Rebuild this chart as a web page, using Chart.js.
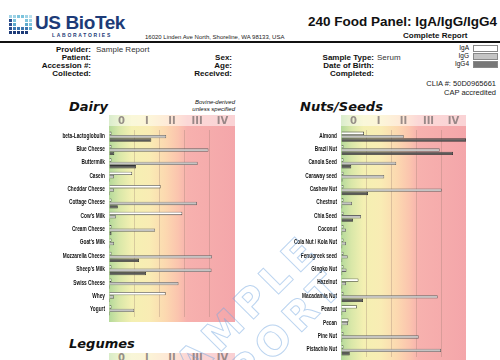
<!DOCTYPE html>
<html>
<head>
<meta charset="utf-8">
<script src="https://cdn.jsdelivr.net/npm/chart.js@4.4.1/dist/chart.umd.min.js"></script>
<style>
  html, body { margin: 0; padding: 0; }
  body { width: 500px; height: 360px; overflow: hidden; position: relative; background: #fff;
         font-family: "Liberation Sans", Arial, sans-serif; color: #111; }
  .t { position: absolute; white-space: nowrap; line-height: 10px; }
  .lbl { font-weight: bold; font-size: 8px; text-align: right; }
  .val { font-size: 8px; color: #333; }
  canvas { position: absolute; }
  .swatch { position: absolute; width: 23px; height: 5px; border: 1px solid #888; }
  .band { position: absolute; left: 109px; top: 353px; width: 126px; height: 11px; display: flex;
          background: linear-gradient(to right, #d8ecc8 0%, #ecf2cc 8%, #f8f6d8 18%, #fbf3d6 32%, #fde9d6 45%, #fde0d4 55%, #fad6d5 62%, #f9d0d3 100%); }
  .band span { flex: 1; text-align: center; font: bold 10px "DejaVu Sans", sans-serif; color: rgba(120,110,110,0.75); line-height: 10px; }
  .wm { position: absolute; font: bold 40px "DejaVu Sans", sans-serif; color: transparent; line-height: 44px;
        -webkit-text-stroke: 1px rgba(120,170,225,0.5); letter-spacing: 6px;
        transform: translate(-50%, -50%) rotate(-45deg); }
</style>
</head>
<body>
<!-- header -->
<div id="logo" style="position:absolute;left:9px;top:15px;width:24px;height:20px;"></div>
<div class="t" style="left:35px;top:12px;font:bold 19px/22px 'Liberation Sans',Arial,sans-serif;color:#1d3b78;letter-spacing:-0.4px;">US BioTek</div>
<div class="t" style="left:52px;top:32px;font:bold 5px/6px 'Liberation Sans',Arial,sans-serif;color:#1d3b78;letter-spacing:1.7px;">LABORATORIES</div>
<div class="t" style="left:145px;top:34px;font-size:6px;line-height:7px;color:#222;">16020 Linden Ave North, Shoreline, WA 98133, USA</div>
<div class="t" style="right:3px;top:14px;font:bold 13.5px/16px 'Liberation Sans',Arial,sans-serif;color:#111;">240 Food Panel: IgA/IgG/IgG4</div>
<div class="t" style="left:403px;top:31px;font-weight:bold;font-size:8px;">Complete Report</div>
<div style="position:absolute;left:0;top:41px;width:500px;height:2px;background:#111;"></div>

<div class="t lbl" style="right:409px;top:45px;">Provider:</div>
<div class="t val" style="left:96px;top:45px;">Sample Report</div>
<div class="t lbl" style="right:409px;top:53px;">Patient:</div>
<div class="t lbl" style="right:409px;top:61px;">Accession #:</div>
<div class="t lbl" style="right:409px;top:69px;">Collected:</div>
<div class="t lbl" style="right:268px;top:53px;">Sex:</div>
<div class="t lbl" style="right:268px;top:61px;">Age:</div>
<div class="t lbl" style="right:268px;top:69px;">Received:</div>
<div class="t lbl" style="right:126px;top:53px;">Sample Type:</div>
<div class="t val" style="left:377px;top:53px;">Serum</div>
<div class="t lbl" style="right:126px;top:61px;">Date of Birth:</div>
<div class="t lbl" style="right:126px;top:69px;">Completed:</div>

<div class="t" style="right:31px;top:43px;font-size:6.5px;">IgA</div>
<div class="swatch" style="left:473px;top:45px;background:#fff;"></div>
<div class="t" style="right:31px;top:51px;font-size:6.5px;">IgG</div>
<div class="swatch" style="left:473px;top:53px;background:#c4c4c4;"></div>
<div class="t" style="right:31px;top:59px;font-size:6.5px;">IgG4</div>
<div class="swatch" style="left:473px;top:61px;background:#777;"></div>
<div class="t" style="right:4px;top:79px;font-size:7.5px;color:#222;">CLIA #: 50D0965661</div>
<div class="t" style="right:4px;top:88px;font-size:7.5px;color:#222;">CAP accredited</div>

<!-- section titles -->
<div class="t" style="left:69px;top:99px;font:italic bold 13px/16px 'DejaVu Sans',sans-serif;">Dairy</div>
<div class="t" style="right:265px;top:99px;font:italic 6px/7px 'Liberation Sans',Arial,sans-serif;text-align:right;">Bovine-derived<br>unless specified</div>
<div class="t" style="left:300px;top:99px;font:italic bold 13px/16px 'DejaVu Sans',sans-serif;">Nuts/Seeds</div>
<div class="t" style="left:69px;top:336px;font:italic bold 13px/16px 'DejaVu Sans',sans-serif;">Legumes</div>

<canvas id="dairy" width="250" height="215" style="left:0;top:110px;"></canvas>
<canvas id="nuts" width="250" height="255" style="left:250px;top:110px;"></canvas>
<div class="band" id="legBand"></div>

<div class="wm" style="left:235px;top:318px;">SAMPLE</div>
<div class="wm" style="left:262px;top:352px;">REPORT</div>

<script>
const classLabels = ['0', 'I', 'II', 'III', 'IV'];

const dairyFoods = ['beta-Lactoglobulin', 'Blue Cheese', 'Buttermilk', 'Casein', 'Cheddar Cheese',
  'Cottage Cheese', "Cow's Milk", 'Cream Cheese', "Goat's Milk", 'Mozzarella Cheese',
  "Sheep's Milk", 'Swiss Cheese', 'Whey', 'Yogurt'];
const dairyIgA = [0.1, 0.1, 0.1, 0.92, 2.05, 0.1, 2.91, 0.1, 0.1, 0.1, 0.1, 0.1, 2.25, 0.1];
const dairyIgG = [2.27, 3.95, 3.52, 0.2, 0.2, 3.49, 0.28, 1.83, 0.2, 4.09, 4.07, 2.76, 0.2, 1.0];
const dairyIgG4 = [1.68, 0.21, 1.07, 0.04, 0.04, 0.35, 0.04, 0.1, 0.04, 1.19, 1.47, 0.04, 0.04, 0.04];

const nutFoods = ['Almond', 'Brazil Nut', 'Canola Seed', 'Caraway seed', 'Cashew Nut', 'Chestnut',
  'Chia Seed', 'Coconut', 'Cola Nut / Kola Nut', 'Fenugreek seed', 'Gingko Nut', 'Hazelnut',
  'Macadamia Nut', 'Peanut', 'Pecan', 'Pine Nut', 'Pistachio Nut'];
const nutIgA = [0.92, 0.1, 0.1, 0.1, 0.1, 0.1, 0.1, 0.1, 0.1, 0.1, 0.1, 0.7, 0.1, 0.64, 0.3, 0.1, 0.1];
const nutIgG = [2.51, 3.95, 2.21, 1.73, 4.03, 0.44, 0.8, 0.2, 0.2, 0.27, 0.22, 0.2, 3.87, 0.2, 0.28, 3.11, 4.0];
const nutIgG4 = [5.0, 4.48, 0.41, 0.06, 1.08, 0.05, 0.48, 0.05, 0.05, 0.05, 0.05, 0.05, 0.88, 0.05, 0.05, 0.05, 0.35];

// logo squares
const logoColors = [
  '#9fd3e6', '#9fd3e6', '#7cc4dd', '#7cc4dd', '#9fd3e6', '#b9e0ee',
  '#2b4c8c', '#7cc4dd', '#ffffff', '#ffffff', '#7cc4dd', '#9fd3e6',
  '#2b4c8c', '#5aa9cc', '#ffffff', '#ffffff', '#5aa9cc', '#7cc4dd',
  '#2b4c8c', '#3d78b0', '#3d78b0', '#3d78b0', '#3d78b0', '#5aa9cc',
  '#1d3b78', '#1d3b78', '#1d3b78', '#1d3b78', '#1d3b78', '#ffffff'
];
const logo = document.getElementById('logo');
logoColors.forEach((c, i) => {
  const d = document.createElement('div');
  d.style.cssText = `position:absolute;left:${(i % 6) * 4}px;top:${Math.floor(i / 6) * 4}px;width:3px;height:3px;background:${c}`;
  logo.appendChild(d);
});

classLabels.forEach((l) => {
  const s = document.createElement('span');
  s.textContent = l;
  document.getElementById('legBand').appendChild(s);
});

// gradient class columns behind the plot, with a lighter header strip
const classBands = {
  id: 'classBands',
  beforeDraw(chart, args, opts) {
    const { ctx, chartArea } = chart;
    const x = chart.scales.x;
    const left = x.getPixelForValue(0);
    const right = x.getPixelForValue(5);
    const top = chartArea.top - opts.head;
    const bottom = chartArea.bottom + opts.tail;
    const g = ctx.createLinearGradient(left, 0, right, 0);
    g.addColorStop(0, '#b4d99a');
    g.addColorStop(0.08, '#d8e7a8');
    g.addColorStop(0.18, '#f4f0b2');
    g.addColorStop(0.32, '#f9ecb4');
    g.addColorStop(0.45, '#fcd8b0');
    g.addColorStop(0.55, '#fbc4ae');
    g.addColorStop(0.62, '#f7b1ae');
    g.addColorStop(1, '#f4a6aa');
    ctx.save();
    ctx.fillStyle = g;
    ctx.fillRect(left, top, right - left, bottom - top);
    ctx.fillStyle = 'rgba(255,255,255,0.5)';
    ctx.fillRect(left, top, right - left, opts.bandH);
    ctx.restore();
  }
};

// food names in a condensed face (no narrow font installed, so squeeze horizontally)
const narrowLabels = {
  id: 'narrowLabels',
  afterDraw(chart) {
    const { ctx } = chart;
    const y = chart.scales.y;
    const xr = chart.chartArea.left - 4;
    ctx.save();
    ctx.font = 'bold 7px "Liberation Sans"';
    ctx.fillStyle = '#111';
    ctx.textAlign = 'right';
    ctx.textBaseline = 'middle';
    chart.data.labels.forEach((lab, i) => {
      ctx.save();
      ctx.translate(xr, y.getPixelForValue(i) - 1);
      ctx.scale(0.68, 1);
      ctx.fillText(lab, 0, 0);
      ctx.restore();
    });
    ctx.restore();
  }
};

function foodChart(id, foods, iga, igg, igg4, axisW, pad) {
  return new Chart(document.getElementById(id), {
    type: 'bar',
    data: {
      labels: foods,
      datasets: [
        { label: 'IgA', data: iga, backgroundColor: '#ffffff', borderColor: '#444', borderWidth: 0.8 },
        { label: 'IgG', data: igg, backgroundColor: '#c4c4c4', borderColor: '#666', borderWidth: 0.8 },
        { label: 'IgG4', data: igg4, backgroundColor: '#5a5a5a', borderColor: '#333', borderWidth: 0.8 }
      ]
    },
    options: {
      indexAxis: 'y',
      responsive: false,
      animation: false,
      layout: { padding: pad },
      datasets: { bar: { categoryPercentage: 0.76, barPercentage: 1 } },
      scales: {
        x: {
          min: 0, max: 5, position: 'bottom',
          ticks: { display: false, stepSize: 1 },
          grid: {
            drawTicks: false,
            color: (c) => (c.tick && c.tick.value > 0 && c.tick.value < 5) ? 'rgba(150,120,110,0.3)' : 'rgba(0,0,0,0)'
          },
          border: { display: false },
          afterFit: (s) => { s.height = 0; }
        },
        x2: {
          min: 0, max: 5, position: 'top',
          grid: { display: false, drawTicks: false },
          border: { display: false },
          afterBuildTicks: (s) => { s.ticks = classLabels.map((_, i) => ({ value: i + 0.5 })); },
          ticks: {
            autoSkip: false, maxRotation: 0, padding: 3,
            color: 'rgba(120,110,110,0.75)',
            font: { family: 'DejaVu Sans', size: 10, weight: 'bold' },
            callback: (v, i) => classLabels[i]
          },
          afterFit: (s) => { s.height = 15; }
        },
        y: {
          grid: { display: false },
          border: { display: false },
          ticks: { display: false },
          afterFit: (s) => { s.width = axisW; }
        }
      },
      plugins: {
        legend: { display: false },
        tooltip: { enabled: false },
        classBands: { head: 15, bandH: 11, tail: 5 }
      }
    },
    plugins: [classBands, narrowLabels]
  });
}

foodChart('dairy', dairyFoods, dairyIgA, dairyIgG, dairyIgG4, 109, { left: 0, right: 15, top: 5, bottom: 8 });
foodChart('nuts', nutFoods, nutIgA, nutIgG, nutIgG4, 91, { left: 0, right: 34, top: 5, bottom: 8 });
</script>
</body>
</html>
